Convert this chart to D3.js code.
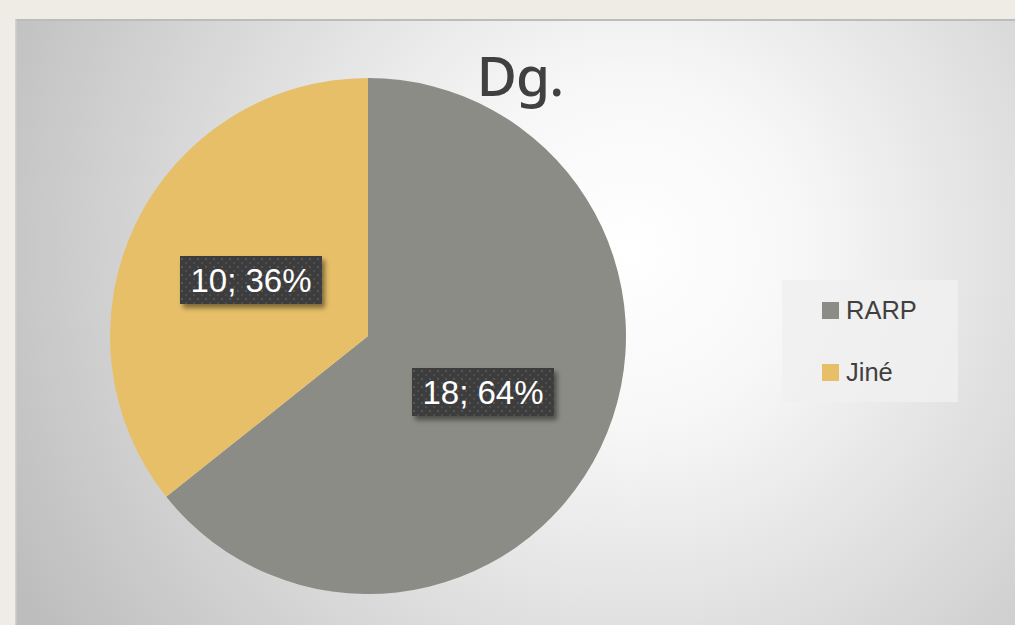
<!DOCTYPE html>
<html><head><meta charset="utf-8">
<script src="https://cdn.jsdelivr.net/npm/d3@7"></script>
<style>body{margin:0;background:#efece5;overflow:hidden}</style>
</head><body>
<svg id="c" width="1015" height="625"></svg>
<script>
const categories = ["RARP", "Jiné"];
const values = [18, 10];
const colors = ["#8c8c86", "#e6bf68"];
const title = "Dg.";

const svg = d3.select("#c");
const defs = svg.append("defs");
const rg = defs.append("radialGradient").attr("id","bg").attr("gradientUnits","userSpaceOnUse")
  .attr("cx",630).attr("cy",250).attr("r",700);
rg.append("stop").attr("offset","0").attr("stop-color","#ffffff");
rg.append("stop").attr("offset","0.25").attr("stop-color","#f7f7f7");
rg.append("stop").attr("offset","1").attr("stop-color","#bdbdbd");

const pat = defs.append("pattern").attr("id","dots").attr("patternUnits","userSpaceOnUse").attr("width",8).attr("height",8);
pat.append("rect").attr("width",8).attr("height",8).attr("fill","#3e3e3e");
pat.append("rect").attr("x",2).attr("y",2).attr("width",2).attr("height",2).attr("fill","#555");
pat.append("rect").attr("x",6).attr("y",6).attr("width",2).attr("height",2).attr("fill","#4e4e4e");

const sh = defs.append("filter").attr("id","sh").attr("x","-20%").attr("y","-20%").attr("width","150%").attr("height","160%");
sh.append("feDropShadow").attr("dx",3).attr("dy",4).attr("stdDeviation",2.5).attr("flood-color","#000").attr("flood-opacity",0.45);

svg.append("rect").attr("x",15).attr("y",19).attr("width",1010).attr("height",620).attr("fill","url(#bg)");
svg.append("rect").attr("x",15).attr("y",19).attr("width",1010).attr("height",2).attr("fill","#bcbcbc");
svg.append("rect").attr("x",15).attr("y",19).attr("width",1.5).attr("height",620).attr("fill","#d2d2d2");

const cx = 368, cy = 336, r = 258;
const pie = d3.pie().sort(null).value(d=>d)(values);
const arc = d3.arc().innerRadius(0).outerRadius(r);
const g = svg.append("g").attr("transform",`translate(${cx},${cy})`);
g.selectAll("path").data(pie).join("path").attr("d",arc).attr("fill",(d,i)=>colors[i]);

svg.append("text").attr("x",520).attr("y",96).attr("text-anchor","middle")
  .attr("font-family","'Noto Sans', 'Open Sans', sans-serif").attr("font-size",55).attr("font-weight",500)
  .attr("fill","#404040").attr("letter-spacing",-1).text(title);

const total = d3.sum(values);
const labelPos = [[483,392],[251,280]];
pie.forEach((d,i)=>{
  const txt = `${values[i]}; ${Math.round(values[i]/total*100)}%`;
  const lg = svg.append("g").attr("transform",`translate(${labelPos[i][0]},${labelPos[i][1]})`);
  lg.append("rect").attr("x",-71).attr("y",-24).attr("width",142).attr("height",48)
    .attr("fill","url(#dots)").attr("filter","url(#sh)");
  lg.append("text").attr("x",0).attr("y",12).attr("text-anchor","middle")
    .attr("font-family","'Liberation Sans', Arial, sans-serif").attr("font-size",33)
    .attr("fill","#ffffff").text(txt);
});

const leg = svg.append("g");
leg.append("rect").attr("x",782).attr("y",280).attr("width",176).attr("height",122).attr("fill","#f0f0f0").attr("opacity",0.85);
categories.forEach((c,i)=>{
  const y = 302 + i*62;
  leg.append("rect").attr("x",822).attr("y",y).attr("width",17).attr("height",17).attr("fill",colors[i]);
  leg.append("text").attr("x",846).attr("y",y+17).attr("font-family","'Liberation Sans', Arial, sans-serif")
    .attr("font-size",25.5).attr("fill","#404040").text(c);
});
</script>
</body></html>
